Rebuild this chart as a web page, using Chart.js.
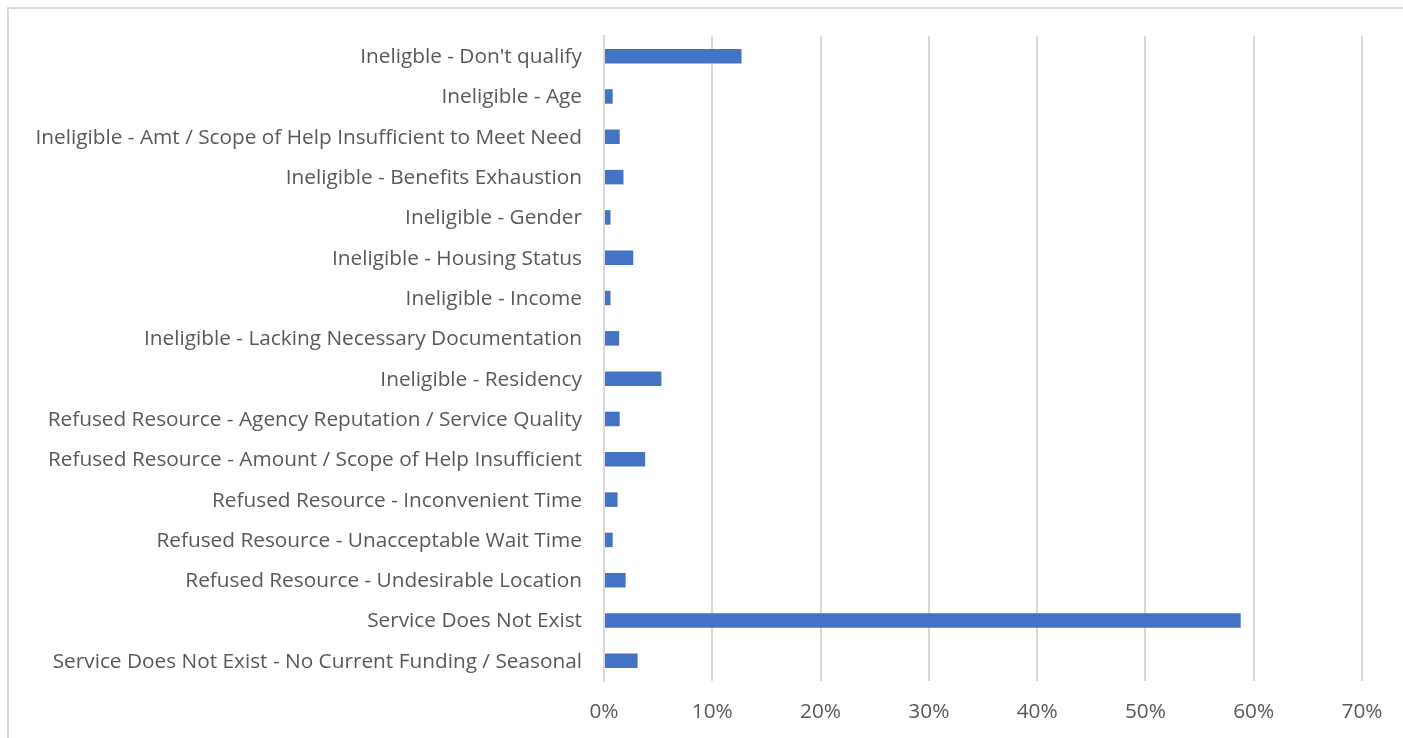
<!DOCTYPE html>
<html lang="en">
<head>
    <meta charset="UTF-8">
    <title>Unmet Need Reasons</title>
    <script src="https://cdn.jsdelivr.net/npm/chart.js"></script>
    <style>
        html, body {
            margin: 0;
            padding: 0;
            background: #ffffff;
            overflow: hidden;
        }
        .frame {
            position: absolute;
            left: 7px;
            top: 7px;
            width: 1500px;
            height: 800px;
            border-top: 2px solid #d9d9d9;
            border-left: 2px solid #d9d9d9;
        }
        .chart-box {
            position: absolute;
            left: 0;
            top: 0;
            width: 1403px;
            height: 738px;
        }
    </style>
</head>
<body>
    <div class="frame"></div>
    <div class="chart-box">
        <canvas id="reasonChart"></canvas>
    </div>

    <script>
        // reasons, top to bottom as shown
        const reasons = [
            "Ineligble - Don't qualify",
            "Ineligible - Age",
            "Ineligible - Amt / Scope of Help Insufficient to Meet Need",
            "Ineligible - Benefits Exhaustion",
            "Ineligible - Gender",
            "Ineligible - Housing Status",
            "Ineligible - Income",
            "Ineligible - Lacking Necessary Documentation",
            "Ineligible - Residency",
            "Refused Resource - Agency Reputation / Service Quality",
            "Refused Resource - Amount / Scope of Help Insufficient",
            "Refused Resource - Inconvenient Time",
            "Refused Resource - Unacceptable Wait Time",
            "Refused Resource - Undesirable Location",
            "Service Does Not Exist",
            "Service Does Not Exist - No Current Funding / Seasonal"
        ];

        // share of responses (fraction)
        const shares = [0.127, 0.008, 0.0145, 0.018, 0.006, 0.027, 0.006, 0.014,
                        0.053, 0.0145, 0.038, 0.0125, 0.008, 0.020, 0.588, 0.031];

        const xTicks = [0, 0.1, 0.2, 0.3, 0.4, 0.5, 0.6, 0.7];

        const labelFont = { family: "'Open Sans', 'Liberation Sans', sans-serif", size: 20.8 };

        let ctx = document.getElementById("reasonChart").getContext("2d");
        new Chart(ctx, {
            type: "bar",
            data: {
                labels: reasons,
                datasets: [{
                    data: shares,
                    backgroundColor: "#4472C4",
                    borderWidth: 0,
                    barPercentage: 0.9,
                    categoryPercentage: 0.4
                }]
            },
            options: {
                indexAxis: "y",
                responsive: true,
                maintainAspectRatio: false,
                animation: false,
                layout: { padding: { top: 36, right: 41, left: 10, bottom: 0 } },
                plugins: {
                    legend: { display: false },
                    tooltip: { enabled: false }
                },
                scales: {
                    x: {
                        min: 0,
                        max: 0.7,
                        afterBuildTicks: scale => {
                            scale.ticks = xTicks.map(v => ({ value: v }));
                        },
                        afterFit: scale => { scale.height = 57; },
                        ticks: {
                            color: "#595959",
                            font: labelFont,
                            padding: 19,
                            callback: v => Math.round(v * 100) + "%"
                        },
                        grid: { color: "#d9d9d9", lineWidth: 2, drawTicks: false },
                        border: { display: false }
                    },
                    y: {
                        afterFit: scale => { scale.width = 594; },
                        ticks: {
                            color: "#595959",
                            font: labelFont,
                            padding: 22,
                            labelOffset: 1
                        },
                        grid: { display: false, drawTicks: false },
                        border: { display: true, color: "#d9d9d9", width: 2 }
                    }
                }
            }
        });
    </script>
</body>
</html>
